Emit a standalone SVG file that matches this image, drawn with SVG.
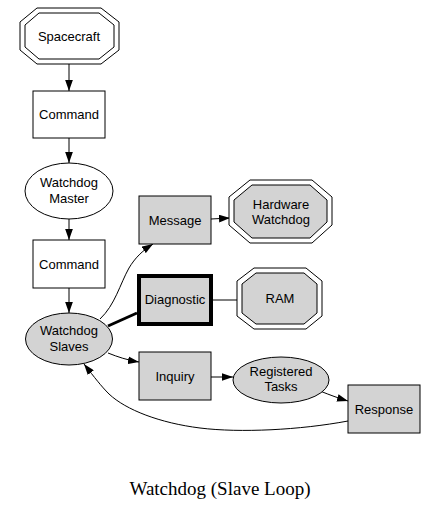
<svg xmlns="http://www.w3.org/2000/svg" width="439" height="512" viewBox="0 0 439 512">
<style>
.n{stroke:#000;stroke-width:1;fill:#fff}
.g{stroke:#000;stroke-width:1;fill:#d3d3d3}
.t{font-family:"Liberation Sans",Arial,sans-serif;font-size:13px;fill:#000;text-anchor:middle}
.e{fill:none;stroke:#000;stroke-width:1}
</style>
<defs>
<marker id="ah" markerUnits="userSpaceOnUse" markerWidth="11" markerHeight="8" refX="10" refY="3.5" orient="auto" viewBox="0 0 10 7">
<path d="M0,0 L10,3.5 L0,7 z" fill="#000"/>
</marker>
</defs>
<rect width="439" height="512" fill="#fff"/>
<g id="edges">
<line class="e" x1="69" y1="64" x2="69" y2="91" marker-end="url(#ah)"/>
<line class="e" x1="69" y1="138" x2="69" y2="163" marker-end="url(#ah)"/>
<line class="e" x1="69" y1="219" x2="69" y2="240" marker-end="url(#ah)"/>
<line class="e" x1="69" y1="288" x2="69" y2="313" marker-end="url(#ah)"/>
<path class="e" d="M100,319 C115,305 120,284 129,268 C135,258 142,251 153,244" marker-end="url(#ah)"/>
<line x1="108" y1="326" x2="137" y2="313" stroke="#000" stroke-width="3"/>
<line class="e" x1="213" y1="300" x2="237" y2="300"/>
<line class="e" x1="211" y1="219" x2="230" y2="218" marker-end="url(#ah)"/>
<path class="e" d="M108,353 C118,357 127,360 139,362" marker-end="url(#ah)"/>
<line class="e" x1="211" y1="377" x2="233" y2="377" marker-end="url(#ah)"/>
<path class="e" d="M320,391 C330,395 338,398 348,401" marker-end="url(#ah)"/>
<path class="e" d="M348,421 C300,430 240,433 200,428 C160,423 126,410 109,394 C101,386 95,378 84,364" marker-end="url(#ah)"/>
</g>
<g id="spacecraft">
<polygon class="n" points="37,8 101,8 119,22 119,50 101,64 37,64 20,50 20,22"/>
<polygon class="n" points="39,13 99,13 114,25 114,47 99,59 39,59 25,47 25,25"/>
<text class="t" x="69" y="41">Spacecraft</text>
</g>
<g id="command1">
<rect class="n" x="33" y="91" width="72" height="47"/>
<text class="t" x="69" y="119">Command</text>
</g>
<g id="watchdog_master">
<ellipse class="n" cx="69" cy="191" rx="44" ry="28"/>
<text class="t" x="69" y="187">Watchdog</text>
<text class="t" x="69" y="203">Master</text>
</g>
<g id="command2">
<rect class="n" x="33" y="240" width="72" height="48"/>
<text class="t" x="69" y="269">Command</text>
</g>
<g id="watchdog_slaves">
<ellipse class="g" cx="69" cy="339" rx="43.5" ry="26"/>
<text class="t" x="69" y="335">Watchdog</text>
<text class="t" x="69" y="351">Slaves</text>
</g>
<g id="message">
<rect class="g" x="139" y="196" width="72" height="48"/>
<text class="t" x="175" y="225">Message</text>
</g>
<g id="hardware_watchdog">
<polygon class="n" points="250,180 312,180 332,197 332,225 312,243 250,243 229,225 229,197"/>
<polygon class="g" points="252,185 310,185 327,200 327,222 310,238 252,238 234,222 234,200"/>
<text class="t" x="281" y="209">Hardware</text>
<text class="t" x="281" y="224">Watchdog</text>
</g>
<g id="diagnostic">
<rect class="g" x="139" y="276" width="72" height="48" style="stroke-width:4"/>
<text class="t" x="175" y="304">Diagnostic</text>
</g>
<g id="ram">
<polygon class="n" points="254,268 306,268 322,281 322,316 306,329 254,329 237,316 237,281"/>
<polygon class="g" points="256,273 304,273 317,284 317,313 304,324 256,324 242,313 242,284"/>
<text class="t" x="280" y="303">RAM</text>
</g>
<g id="inquiry">
<rect class="g" x="139" y="352" width="72" height="48"/>
<text class="t" x="175" y="381">Inquiry</text>
</g>
<g id="registered_tasks">
<ellipse class="g" cx="281" cy="380" rx="48" ry="23"/>
<text class="t" x="281" y="376">Registered</text>
<text class="t" x="281" y="391">Tasks</text>
</g>
<g id="response">
<rect class="g" x="348" y="385" width="72" height="48"/>
<text class="t" x="384" y="414">Response</text>
</g>
<text x="220" y="495" font-family="'Liberation Serif','Times New Roman',serif" font-size="19" text-anchor="middle" fill="#000">Watchdog (Slave Loop)</text>
</svg>
